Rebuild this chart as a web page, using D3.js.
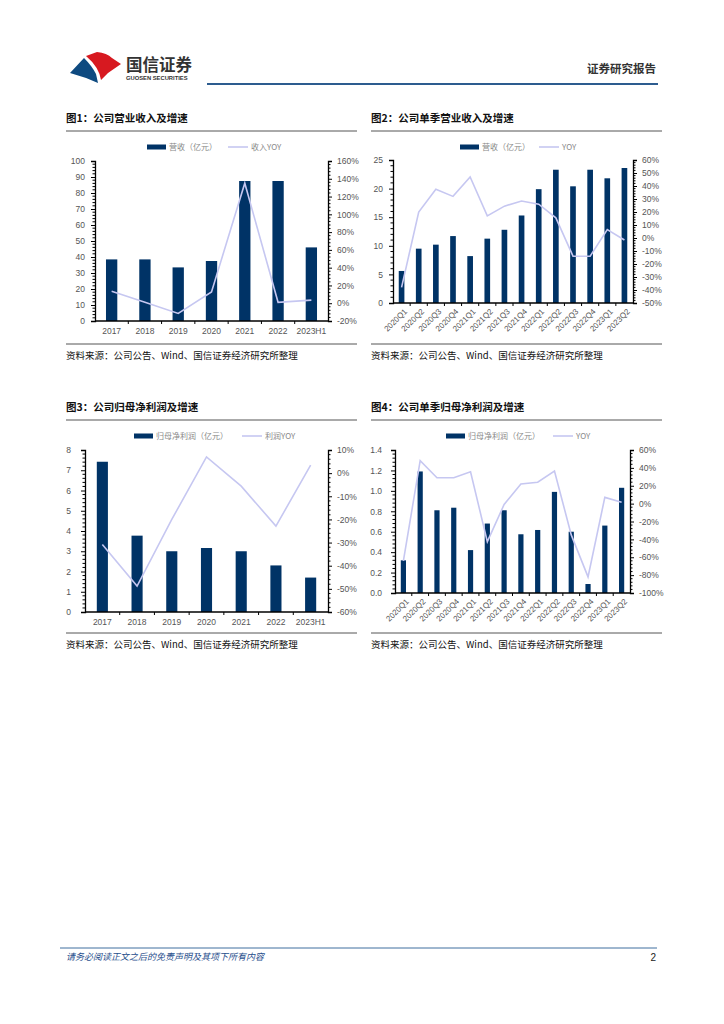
<!DOCTYPE html>
<html><head><meta charset="utf-8">
<script src="https://cdn.jsdelivr.net/npm/d3@7"></script>
<style>
body{margin:0;background:#fff;}
svg{display:block;}
text{font-family:"Liberation Sans","Noto Sans CJK SC",Arial,sans-serif;}
.cjk{font-family:"Noto Sans CJK SC",sans-serif;}
</style></head>
<body>
<svg id="page" width="724" height="1024"></svg>
<script>
// ---------- data ----------
const years = ["2017","2018","2019","2020","2021","2022","2023H1"];
const quarters = ["2020Q1","2020Q2","2020Q3","2020Q4","2021Q1","2021Q2","2021Q3","2021Q4","2022Q1","2022Q2","2022Q3","2022Q4","2023Q1","2023Q2"];

const revenue = [38.5, 38.5, 33.5, 37.5, 87.5, 87.5, 46];
const revenueYoy = [0.135, 0.01, -0.115, 0.127, 1.35, 0.01, 0.035];

const qRevenue = [5.6, 9.5, 10.2, 11.7, 8.2, 11.25, 12.8, 15.3, 19.9, 23.3, 20.4, 23.3, 21.8, 23.6];
const qRevenueYoy = [-0.38, 0.20, 0.375, 0.32, 0.47, 0.17, 0.245, 0.285, 0.26, 0.155, -0.14, -0.14, 0.065, -0.015];

const profit = [7.42, 3.77, 3.0, 3.16, 3.0, 2.3, 1.7];
const profitYoy = [-0.308, -0.488, -0.20, 0.07, -0.056, -0.229, 0.035];

const qProfit = [0.32, 1.19, 0.81, 0.835, 0.42, 0.68, 0.81, 0.575, 0.617, 0.99, 0.60, 0.088, 0.66, 1.03];
const qProfitYoy = [-0.64, 0.48, 0.29, 0.29, 0.357, -0.426, -0.01, 0.22, 0.24, 0.365, -0.35, -0.82, 0.07, 0.015];

const leftTicks1 = d3.range(0, 101, 10);
const rightTicks1 = d3.range(-0.2, 1.61, 0.2);
const leftTicks2 = d3.range(0, 26, 5);
const rightTicks2 = d3.range(-0.5, 0.61, 0.1);
const leftTicks3 = d3.range(0, 9, 1);
const rightTicks3 = d3.range(-0.6, 0.11, 0.1);
const leftTicks4 = d3.range(0, 1.41, 0.2);
const rightTicks4 = d3.range(-1.0, 0.61, 0.2);

// ---------- styles ----------
const BAR = "#003366";
const LINE = "#c6c7f1";
const svg = d3.select("#page");

// ---------- header ----------
svg.append("path").attr("d","M70,73 L84,58 Q92,66 96,74 L98,83 Q85,77 70,73 Z").attr("fill","#0e4a80");
svg.append("path").attr("d","M86,56 L97,52 Q107,53 112,58 L121,64 L108,73 L101,80 Q99,67 86,56 Z").attr("fill","#d71920");
svg.append("text").attr("class","cjk").attr("x",126).attr("y",71).attr("font-size",16.5).attr("font-weight","bold").attr("fill","#333").text("国信证券");
svg.append("text").attr("x",126).attr("y",80).attr("font-size",5.8).attr("font-weight","bold").attr("fill","#333").text("GUOSEN SECURITIES");
svg.append("text").attr("class","cjk").attr("x",656).attr("y",73).attr("text-anchor","end").attr("font-size",11.5).attr("font-weight","bold").attr("fill","#333").text("证券研究报告");
svg.append("line").attr("x1",207).attr("x2",658).attr("y1",84).attr("y2",84).attr("stroke","#2d5c8f").attr("stroke-width",2);

// ---------- footer ----------
svg.append("line").attr("x1",60).attr("x2",657).attr("y1",948).attr("y2",948).attr("stroke","#3f6f9f").attr("stroke-width",1);
svg.append("text").attr("class","cjk").attr("x",66).attr("y",960).attr("font-size",9).attr("font-style","italic").attr("fill","#1f4e8c").text("请务必阅读正文之后的免责声明及其项下所有内容");
svg.append("text").attr("x",656).attr("y",961).attr("text-anchor","end").attr("font-size",10).attr("fill","#222").text("2");

// ---------- chart builder ----------
function pct(v){ return Math.round(v*100) + "%"; }

function chart(o){
  const g = svg.append("g");
  g.append("text").attr("class","cjk").attr("x",o.tx).attr("y",o.titleY).attr("font-size",10.5).attr("font-weight","bold").attr("fill","#111").text(o.title);
  g.append("line").attr("x1",o.tx).attr("x2",o.tx+291).attr("y1",o.titleY+9).attr("y2",o.titleY+9).attr("stroke","#555").attr("stroke-width",1);
  g.append("line").attr("x1",o.tx).attr("x2",o.tx+291).attr("y1",o.srcY-11).attr("y2",o.srcY-11).attr("stroke","#555").attr("stroke-width",1);
  g.append("text").attr("class","cjk").attr("x",o.tx).attr("y",o.srcY+4).attr("font-size",9.5).attr("fill","#111").text("资料来源：公司公告、Wind、国信证券经济研究所整理");

  const x = d3.scaleBand().domain(o.cats).range([o.x0,o.x1]).paddingInner(o.pad).paddingOuter(o.pad/2);
  const yL = d3.scaleLinear().domain(o.lDom).range([o.y1,o.y0]);
  const yR = d3.scaleLinear().domain(o.rDom).range([o.y1,o.y0]);

  g.selectAll("rect.bar").data(o.bars).enter().append("rect")
    .attr("x",(d,i)=>x(o.cats[i])).attr("width",x.bandwidth())
    .attr("y",d=>yL(d)).attr("height",d=>yL(0)-yL(d)).attr("fill",BAR);

  const line = d3.line().x((d,i)=>x(o.cats[i])+x.bandwidth()/2).y(d=>yR(d));
  g.append("path").datum(o.yoy).attr("d",line).attr("fill","none").attr("stroke",LINE).attr("stroke-width",1.6);

  const la = g.append("g").attr("transform",`translate(${o.x0},0)`)
    .call(d3.axisLeft(yL).tickValues(o.lTicks).tickSize(4).tickFormat(o.lFmt).tickPadding(o.lPad));
  const ra = g.append("g").attr("transform",`translate(${o.x1},0)`)
    .call(d3.axisRight(yR).tickValues(o.rTicks).tickSize(4).tickFormat(pct).tickPadding(o.rPad));
  [la,ra].forEach(a=>{
    a.select(".domain").attr("stroke","#000").attr("stroke-width",1.3);
    a.selectAll(".tick line").attr("stroke","#000");
    a.selectAll(".tick text").attr("fill","#555").attr("font-size",o.fs);
  });
  const minor = (ticks, scale, xpos, dir) => {
    for(let i=0;i<ticks.length-1;i++){
      for(let k=1;k<5;k++){
        const v = ticks[i] + (ticks[i+1]-ticks[i])*k/5;
        g.append("line").attr("x1",xpos).attr("x2",xpos+dir*2.5).attr("y1",scale(v)).attr("y2",scale(v)).attr("stroke","#000").attr("stroke-width",1);
      }
    }
  };
  minor(o.lTicks, yL, o.x0, -1);
  minor(o.rTicks, yR, o.x1, 1);

  g.append("line").attr("x1",o.x0).attr("x2",o.x1).attr("y1",o.y1).attr("y2",o.y1).attr("stroke","#000").attr("stroke-width",1.3);
  const step = x.step();
  for(let i=1;i<o.cats.length;i++){
    const xx = o.x0 + step*i;
    g.append("line").attr("x1",xx).attr("x2",xx).attr("y1",o.y1).attr("y2",o.y1+3).attr("stroke","#000");
  }
  if(o.rotate){
    g.selectAll("text.xl").data(o.cats).enter().append("text")
      .attr("transform",d=>`translate(${x(d)+x.bandwidth()/2+4},${o.y1+7}) rotate(-45)`)
      .attr("text-anchor","end").attr("dy","0.35em").attr("font-size",8).attr("fill","#555").text(d=>d);
  } else {
    g.selectAll("text.xl").data(o.cats).enter().append("text")
      .attr("x",d=>x(d)+x.bandwidth()/2).attr("y",o.y1+13).attr("text-anchor","middle").attr("font-size",o.fs).attr("fill","#555").text(d=>d);
  }

  const ly = o.legY;
  g.append("rect").attr("x",o.leg[0]).attr("y",ly-2.5).attr("width",19).attr("height",5).attr("fill",BAR);
  g.append("text").attr("class","cjk").attr("x",o.leg[0]+22).attr("y",ly+3).attr("font-size",8).attr("fill","#888").text(o.legText[0]);
  g.append("line").attr("x1",o.leg[1]).attr("x2",o.leg[1]+20).attr("y1",ly).attr("y2",ly).attr("stroke",LINE).attr("stroke-width",1.6);
  g.append("text").attr("class","cjk").attr("x",o.leg[1]+23).attr("y",ly+3).attr("font-size",8).attr("fill","#888").text(o.legText[1]);
}

chart({title:"图1：公司营业收入及增速", tx:66, titleY:122, srcY:355,
  cats:years, bars:revenue, yoy:revenueYoy,
  x0:95, x1:328, y0:161, y1:321, pad:0.66,
  lDom:[0,100], rDom:[-0.2,1.6], lTicks:leftTicks1, rTicks:rightTicks1,
  lFmt:d3.format("d"), lPad:6, rPad:5, fs:8.5,
  legY:147, leg:[147,228], legText:["营收（亿元）","收入YOY"]});

chart({title:"图2：公司单季营业收入及增速", tx:371, titleY:122, srcY:355,
  cats:quarters, bars:qRevenue, yoy:qRevenueYoy,
  x0:393, x1:633, y0:160, y1:303, pad:0.67,
  lDom:[0,25], rDom:[-0.5,0.6], lTicks:leftTicks2, rTicks:rightTicks2,
  lFmt:d3.format("d"), lPad:6, rPad:5, fs:8.5, rotate:true,
  legY:147, leg:[460,539], legText:["营收（亿元）","YOY"]});

chart({title:"图3：公司归母净利润及增速", tx:66, titleY:411, srcY:644,
  cats:years, bars:profit, yoy:profitYoy,
  x0:85, x1:328, y0:450, y1:612, pad:0.68,
  lDom:[0,8], rDom:[-0.6,0.1], lTicks:leftTicks3, rTicks:rightTicks3,
  lFmt:d3.format("d"), lPad:10, rPad:5, fs:8.5,
  legY:436, leg:[134,242], legText:["归母净利润（亿元）","利润YOY"]});

chart({title:"图4：公司单季归母净利润及增速", tx:371, titleY:411, srcY:644,
  cats:quarters, bars:qProfit, yoy:qProfitYoy,
  x0:395, x1:630, y0:450, y1:593, pad:0.69,
  lDom:[0,1.4], rDom:[-1.0,0.6], lTicks:leftTicks4, rTicks:rightTicks4,
  lFmt:d3.format(".1f"), lPad:9, rPad:5, fs:8.5, rotate:true,
  legY:436, leg:[446,553], legText:["归母净利润（亿元）","YOY"]});
</script>
</body></html>
